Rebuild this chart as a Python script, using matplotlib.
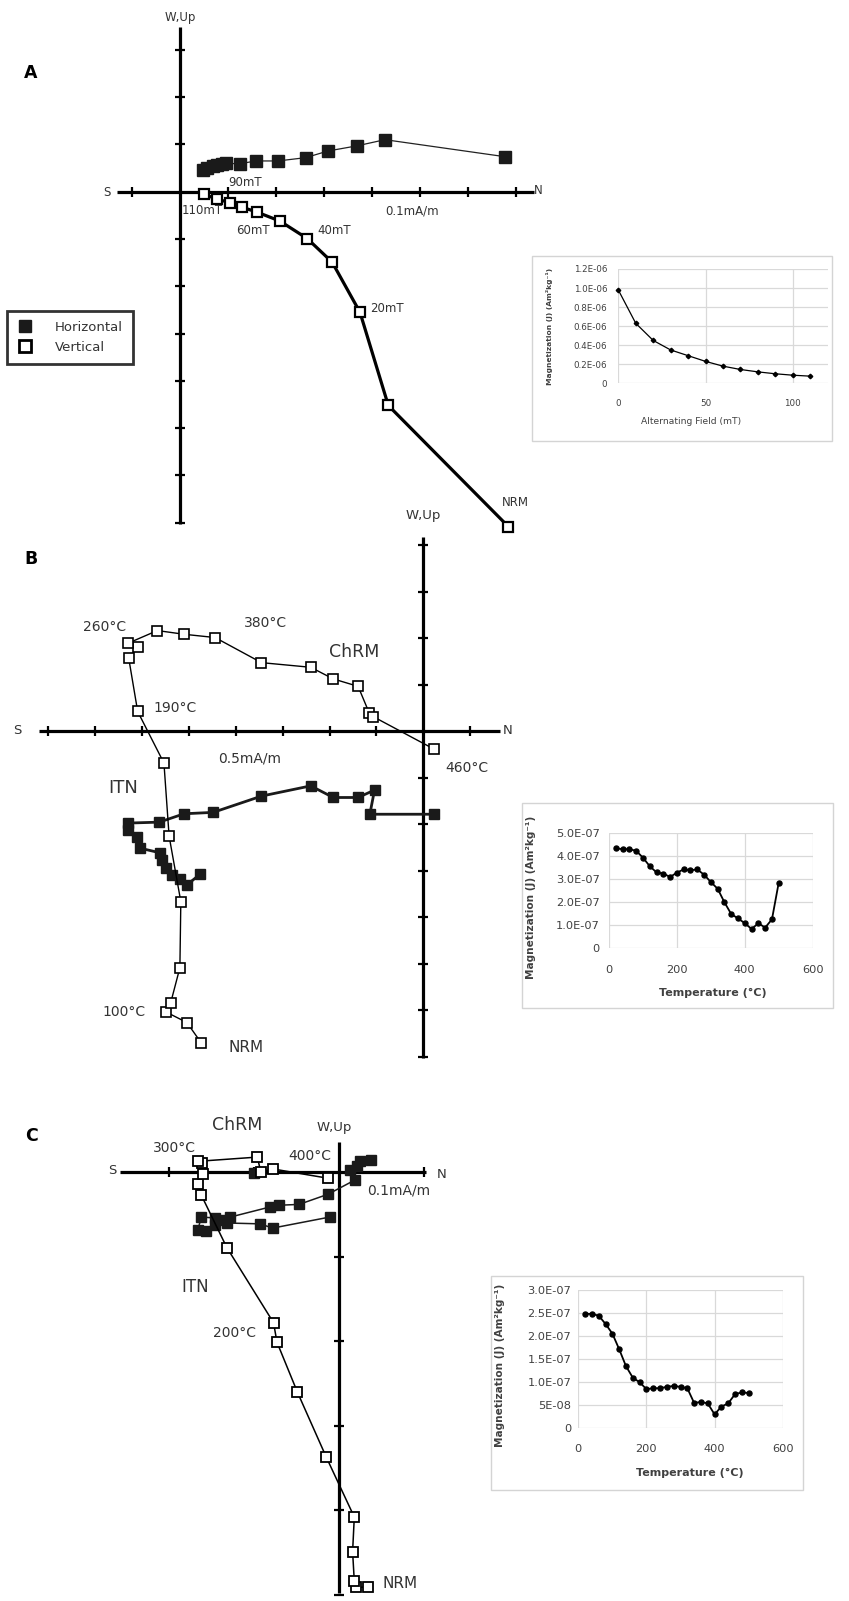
import numpy as np
import matplotlib.pyplot as plt
from matplotlib.lines import Line2D
from matplotlib.patches import Rectangle

# ======================
# DATA (Zijderveld units = one axis tick)
# ======================
# A: AF demagnetization
a_hor_x = [0.47, 0.57, 0.68, 0.78, 0.87, 0.96, 1.24, 1.58, 2.04, 2.62, 3.08, 3.69, 4.27, 6.77]
a_hor_y = [0.45, 0.50, 0.55, 0.57, 0.58, 0.60, 0.59, 0.65, 0.65, 0.72, 0.86, 0.97, 1.10, 0.74]
a_ver_x = [0.49, 0.78, 1.04, 1.30, 1.60, 2.08, 2.65, 3.17, 3.75, 4.34, 6.84]
a_ver_y = [-0.05, -0.16, -0.23, -0.33, -0.43, -0.62, -0.99, -1.49, -2.55, -4.52, -7.08]

af_field = [0, 10, 20, 30, 40, 50, 60, 70, 80, 90, 100, 110]
af_mag = [0.98, 0.63, 0.45, 0.35, 0.29, 0.23, 0.18, 0.145, 0.12, 0.10, 0.085, 0.075]  # x1e-6
af_yticks = [0, 0.2, 0.4, 0.6, 0.8, 1.0, 1.2]
af_ylabels = ["0", "0.2E-06", "0.4E-06", "0.6E-06", "0.8E-06", "1.0E-06", "1.2E-06"]

# B: thermal demagnetization
b_hor_x = [-4.76, -5.04, -5.19, -5.36, -5.49, -5.58, -5.61, -6.04, -6.11, -6.29, -6.29,
           -5.63, -5.10, -4.48, -3.45, -2.40, -1.92, -1.39, -1.04, -1.14, 0.23]
b_hor_y = [-3.08, -3.31, -3.18, -3.10, -2.95, -2.77, -2.62, -2.52, -2.27, -2.13, -1.98,
           -1.96, -1.78, -1.75, -1.40, -1.18, -1.43, -1.43, -1.27, -1.79, -1.79]
b_ver_x = [-4.74, -5.04, -5.49, -5.39, -5.19, -5.17, -5.42, -5.53, -6.09, -6.28, -6.09,
           -6.29, -5.67, -5.10, -4.44, -3.45, -2.40, -1.92, -1.39, -1.15, -1.07, 0.23]
b_ver_y = [-6.70, -6.27, -6.04, -5.86, -5.09, -3.67, -2.26, -0.69, 0.42, 1.56, 1.81,
           1.89, 2.16, 2.08, 2.01, 1.47, 1.37, 1.12, 0.96, 0.38, 0.31, -0.39]

b_temp = [20, 40, 60, 80, 100, 120, 140, 160, 180, 200, 220, 240, 260,
          280, 300, 320, 340, 360, 380, 400, 420, 440, 460, 480, 500]
b_mag = [4.35, 4.31, 4.31, 4.24, 3.94, 3.57, 3.30, 3.25, 3.10, 3.29, 3.43, 3.39, 3.43,
         3.20, 2.88, 2.59, 2.00, 1.49, 1.30, 1.09, 0.84, 1.09, 0.90, 1.26, 2.86]  # x1e-7
b_yticks = [0, 1, 2, 3, 4, 5]
b_ylabels = ["0", "1.0E-07", "2.0E-07", "3.0E-07", "4.0E-07", "5.0E-07"]

# C: thermal demagnetization
c_hor_x = [-0.11, -0.78, -0.93, -1.32, -1.46, -1.56, -1.66, -1.62, -1.46, -1.38, -1.28,
           -0.81, -0.71, -0.47, -0.13, 0.19, 0.13, 0.21, 0.25, 0.38, -1.00]
c_hor_y = [-0.53, -0.66, -0.61, -0.60, -0.62, -0.70, -0.68, -0.53, -0.54, -0.56, -0.53,
           -0.41, -0.39, -0.38, -0.26, -0.09, 0.03, 0.07, 0.13, 0.15, -0.01]
c_ver_x = [0.34, 0.20, 0.18, 0.16, 0.18, -0.15, -0.49, -0.73, -0.77, -1.32, -1.62,
           -1.66, -1.60, -1.61, -1.66, -0.96, -0.92, -0.78, -0.13]
c_ver_y = [-4.91, -4.91, -4.84, -4.49, -4.08, -3.37, -2.60, -2.01, -1.78, -0.89, -0.27,
           -0.14, -0.02, 0.11, 0.13, 0.18, 0.00, 0.04, -0.07]

c_temp = b_temp
c_mag = [2.48, 2.48, 2.44, 2.26, 2.05, 1.71, 1.34, 1.09, 0.99, 0.84, 0.86, 0.86, 0.89,
         0.91, 0.89, 0.86, 0.54, 0.56, 0.53, 0.29, 0.46, 0.53, 0.73, 0.77, 0.755]  # x1e-7
c_yticks = [0, 0.5, 1.0, 1.5, 2.0, 2.5, 3.0]
c_ylabels = ["0", "5E-08", "1.0E-07", "1.5E-07", "2.0E-07", "2.5E-07", "3.0E-07"]

temp_xticks = [0, 200, 400, 600]

# ======================
# FIGURE
# ======================
W, H = 849, 1601
fig = plt.figure(figsize=(W / 100, H / 100), dpi=100)
fig.patch.set_facecolor("white")

TXT = "#333333"


def rect(x0, y0, x1, y1):
    return [x0 / W, 1 - y1 / H, (x1 - x0) / W, (y1 - y0) / H]


def ftext(x, y, s, size=9, ha="left", **kw):
    fig.text(x / W, 1 - y / H, s, ha=ha, va="center", fontsize=size, color=kw.pop("color", TXT), **kw)


def zijderveld(box, origin, unit, xspan, yspan, xticks, yticks):
    x0, y0, x1, y1 = box
    ox, oy = origin
    ux, uy = unit
    ax = fig.add_axes(rect(*box))
    ax.set_xlim((x0 - ox) / ux, (x1 - ox) / ux)
    ax.set_ylim((oy - y1) / uy, (oy - y0) / uy)
    ax.axis("off")
    ax.plot(xspan, [0, 0], color="black", lw=2.3, solid_capstyle="butt", zorder=1)
    ax.plot([0, 0], yspan, color="black", lw=2.3, solid_capstyle="butt", zorder=1)
    ax.plot(xticks, np.zeros(len(xticks)), ls="none", marker="|", ms=6.5, mew=1.6, color="black")
    ax.plot(np.zeros(len(yticks)), yticks, ls="none", marker="_", ms=6.5, mew=1.6, color="black")
    return ax


def inset(plot_box, frame_box, x, y, xlim, ylim, xticks, yticks, ylabels, marker, ms, lw, size):
    fx0, fy0, fx1, fy1 = frame_box
    fig.patches.append(Rectangle((fx0 / W, 1 - fy1 / H), (fx1 - fx0) / W, (fy1 - fy0) / H,
                                 transform=fig.transFigure, fill=False, ec="#d4d4d4", lw=1))
    ax = fig.add_axes(rect(*plot_box))
    ax.plot(x, y, color="black", lw=lw, marker=marker, ms=ms, clip_on=False, zorder=3)
    ax.set_xlim(*xlim)
    ax.set_ylim(*ylim)
    ax.set_xticks(xticks)
    ax.set_yticks(yticks)
    ax.set_yticklabels(ylabels)
    for s in ax.spines.values():
        s.set_visible(False)
    ax.grid(True, color="#d9d9d9", lw=0.9)
    ax.set_axisbelow(True)
    ax.tick_params(length=0, labelsize=size, labelcolor="#404040")
    return ax


# ======================
# A
# ======================
ax = zijderveld((0, 0, 560, 540), (180, 191.7), (48, 47.3), [-1.32, 7.37], [-7.03, 3.49],
                [-1, 1, 2, 3, 4, 5, 6, 7], [-7, -6, -5, -4, -3, -2, -1, 1, 2, 3])
ax.plot(a_hor_x, a_hor_y, color="#222222", lw=0.9, marker="s", ms=8, mfc="#1a1a1a", mec="#1a1a1a")
ax.plot(a_ver_x, a_ver_y, color="black", lw=2.3, marker="s", ms=6.5, mfc="white", mec="black", mew=1.6)

ftext(31, 73, "A", size=12.5, ha="center", weight="bold", color="black")
ftext(180, 17, "W,Up", size=8.5, ha="center")
ftext(107, 192, "S", size=8.5, ha="center")
ftext(538, 190, "N", size=8.5, ha="center")
ftext(228, 182, "90mT", size=8.5)
ftext(182, 211, "110mT", size=8.5)
ftext(236, 231, "60mT", size=8.5)
ftext(317, 231, "40mT", size=8.5)
ftext(385, 211, "0.1mA/m", size=8.5)
ftext(370, 308, "20mT", size=8.5)
ftext(502, 502, "NRM", size=8.5)

handles = [Line2D([], [], ls="none", marker="s", ms=9, mfc="#1a1a1a", mec="#1a1a1a"),
           Line2D([], [], ls="none", marker="s", ms=8.5, mfc="white", mec="black", mew=2)]
leg = fig.legend(handles, ["Horizontal", "Vertical"], loc="upper left",
                 bbox_to_anchor=(6.7 / W, 1 - 310.7 / H), frameon=True, fancybox=False,
                 edgecolor="black", fontsize=9.5, borderpad=0.75, handletextpad=1.6,
                 labelspacing=0.55, handlelength=1.3, borderaxespad=0)
leg.get_frame().set_linewidth(2)
for t in leg.get_texts():
    t.set_color(TXT)

ax_a = inset((618.3, 269, 827.7, 383.3), (531.6, 256, 831.6, 441), af_field, af_mag,
             (0, 120), (0, 1.2), [0, 50, 100], af_yticks, af_ylabels, "D", 2.3, 0.9, 6.3)
ax_a.tick_params(axis="y", pad=8)
ax_a.tick_params(axis="x", pad=11)
ax_a.set_ylabel("Magnetization (J) (Am²kg⁻¹)", fontsize=5.4, weight="bold", color="#404040")
ax_a.yaxis.set_label_coords((553 - 618.3) / 209.4, 0.5)
ax_a.set_xlabel("Alternating Field (mT)", fontsize=6.6, color="#404040")
ax_a.xaxis.set_label_coords((691 - 618.3) / 209.4, -(421 - 383.3) / 114.3)
ax_a.xaxis.label.set_va("center")

# ======================
# B
# ======================
ax = zijderveld((0, 500, 520, 1070), (423.3, 731), (46.9, 46.5), [-8.2, 1.63], [-7.04, 4.18],
                [-8, -7, -6, -5, -4, -3, -2, -1, 1], [-7, -6, -5, -4, -3, -2, -1, 1, 2, 3, 4])
ax.plot(b_hor_x, b_hor_y, color="#1a1a1a", lw=2.0, marker="s", ms=7, mfc="#1a1a1a", mec="#1a1a1a")
ax.plot(b_ver_x, b_ver_y, color="black", lw=1.0, marker="s", ms=6.5, mfc="white", mec="black", mew=1.2)

ftext(31, 559, "B", size=12.5, ha="center", weight="bold", color="black")
ftext(423, 515, "W,Up", size=9.5, ha="center")
ftext(17, 730, "S", size=9.5, ha="center")
ftext(508, 730, "N", size=9.5, ha="center")
ftext(83, 627, "260°C", size=10)
ftext(244, 623, "380°C", size=10)
ftext(329, 652, "ChRM", size=12.5)
ftext(153, 708, "190°C", size=10)
ftext(218, 758, "0.5mA/m", size=10)
ftext(445, 768, "460°C", size=10)
ftext(108, 788, "ITN", size=13)
ftext(102, 1012, "100°C", size=10)
ftext(228, 1047, "NRM", size=11)

ax_b = inset((609, 833.3, 812.7, 948.3), (521.7, 803.3, 833.3, 1008.3), b_temp, b_mag,
             (0, 600), (0, 5), temp_xticks, b_yticks, b_ylabels, "o", 3.6, 1.3, 8.2)
ax_b.tick_params(axis="y", pad=6.5)
ax_b.tick_params(axis="x", pad=12)
ax_b.set_ylabel("Magnetization (J) (Am²kg⁻¹)", fontsize=7.6, weight="bold", color="#404040")
ax_b.yaxis.set_label_coords((535.7 - 609) / 203.7, 1 - (897 - 833.3) / 115)
ax_b.set_xlabel("Temperature (°C)", fontsize=8, weight="bold", color="#404040")
ax_b.xaxis.set_label_coords((713 - 609) / 203.7, -(993 - 948.3) / 115)
ax_b.xaxis.label.set_va("center")

# ======================
# C
# ======================
ax = zijderveld((80, 1100, 470, 1601), (339, 1172.3), (85, 84.5), [-2.58, 1.02], [-4.98, 0.36],
                [-2, -1, 1], [-5, -4, -3, -2, -1])
ax.plot(c_hor_x[:-1], c_hor_y[:-1], color="#1a1a1a", lw=1.1, marker="s", ms=7.5,
        mfc="#1a1a1a", mec="#1a1a1a")
ax.plot(c_hor_x[-1:], c_hor_y[-1:], ls="none", marker="s", ms=7.5, mfc="#1a1a1a", mec="#1a1a1a")
ax.plot(c_ver_x, c_ver_y, color="black", lw=1.1, marker="s", ms=7, mfc="white", mec="black", mew=1.3)

ftext(31, 1136, "C", size=12.5, ha="center", weight="bold", color="black")
ftext(317, 1127, "W,Up", size=9.5)
ftext(112, 1170, "S", size=9.5, ha="center")
ftext(442, 1174, "N", size=9.5, ha="center")
ftext(212, 1125, "ChRM", size=12.5)
ftext(153, 1148, "300°C", size=10)
ftext(288, 1156, "400°C", size=10)
ftext(367, 1190, "0.1mA/m", size=10)
ftext(181, 1287, "ITN", size=12)
ftext(213, 1333, "200°C", size=10)
ftext(383, 1583, "NRM", size=11)

ax_c = inset((578.3, 1290, 782.7, 1427.7), (491, 1276, 803, 1490), c_temp, c_mag,
             (0, 600), (0, 3), temp_xticks, c_yticks, c_ylabels, "o", 3.6, 1.3, 8.2)
ax_c.tick_params(axis="y", pad=5)
ax_c.tick_params(axis="x", pad=12)
ax_c.set_ylabel("Magnetization (J) (Am²kg⁻¹)", fontsize=7.6, weight="bold", color="#404040")
ax_c.yaxis.set_label_coords((505 - 578.3) / 204.4, 0.45)
ax_c.set_xlabel("Temperature (°C)", fontsize=8, weight="bold", color="#404040")
ax_c.xaxis.set_label_coords((690 - 578.3) / 204.4, -(1473 - 1427.7) / 137.7)
ax_c.xaxis.label.set_va("center")

fig.savefig("out.png", dpi=100, facecolor="white")
